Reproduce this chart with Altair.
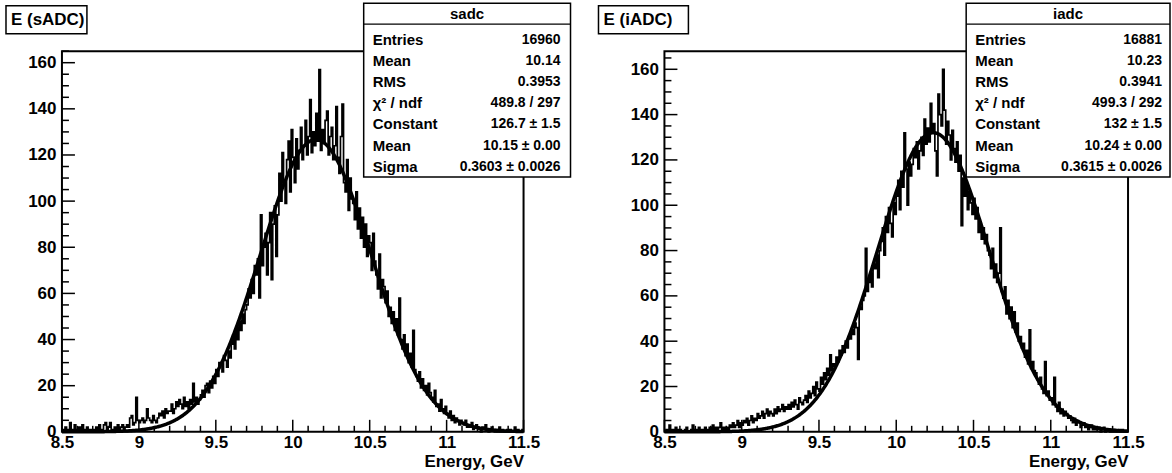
import altair as alt
import numpy as np
import pandas as pd

FONT = "Liberation Sans"

# ---------------- data ----------------
bin_low = 8.5
bin_width = 0.01
n_bins = 300

sadc_counts = [
    1, 0, 2, 1, 0, 4, 1, 0, 3, 1,
    0, 2, 1, 3, 0, 1, 2, 0, 1, 0,
    1, 0, 2, 1, 3, 0, 1, 3, 4, 1,
    2, 4, 1, 0, 2, 1, 3, 1, 2, 3,
    1, 2, 3, 2, 6, 7, 3, 4, 15, 5,
    4, 5, 6, 4, 5, 10, 6, 5, 4, 7,
    5, 4, 6, 8, 7, 9, 6, 10, 8, 9,
    9, 12, 8, 10, 13, 11, 14, 12, 10, 15,
    11, 13, 10, 14, 12, 21, 13, 15, 12, 14,
    16, 18, 15, 20, 21, 17, 22, 19, 24, 21,
    27, 24, 30, 29, 26, 33, 31, 28, 35, 32,
    38, 42, 36, 45, 40, 48, 44, 51, 47, 53,
    55, 62, 58, 66, 60, 72, 68, 75, 58, 94,
    72, 80, 86, 68, 82, 95, 66, 90, 98, 76,
    94, 112, 100, 121, 108, 99, 118, 126, 104, 131,
    119, 108, 127, 114, 122, 132, 118, 124, 135, 120,
    128, 144, 121, 130, 124, 138, 126, 157, 122, 131,
    125, 135, 139, 120, 128, 132, 118, 124, 141, 119,
    112, 128, 142, 108, 104, 118, 96, 110, 101, 99,
    92, 104, 88, 97, 84, 93, 80, 90, 76, 85,
    82, 70, 86, 74, 68, 62, 77, 58, 66, 63,
    56, 61, 50, 54, 47, 52, 44, 49, 42, 58,
    40, 36, 42, 33, 38, 30, 34, 28, 44, 27,
    24, 22, 26, 19, 23, 18, 20, 16, 21, 17,
    15, 13, 18, 11, 12, 9, 14, 10, 8, 11,
    8, 6, 9, 5, 7, 4, 6, 5, 3, 5,
    4, 3, 5, 2, 3, 2, 4, 1, 2, 3,
    2, 1, 0, 2, 1, 3, 1, 0, 1, 2,
    1, 0, 1, 0, 2, 0, 1, 0, 0, 1,
    0, 1, 0, 0, 2, 0, 1, 0, 0, 1,
]

iadc_counts = [
    0, 1, 0, 3, 1, 0, 1, 2, 0, 1,
    1, 0, 0, 1, 2, 0, 0, 1, 3, 0,
    1, 0, 2, 1, 0, 1, 2, 0, 1, 2,
    1, 3, 0, 2, 1, 2, 4, 1, 2, 1,
    2, 1, 3, 2, 4, 2, 3, 5, 2, 4,
    3, 5, 4, 6, 3, 5, 7, 4, 6, 5,
    8, 6, 7, 9, 6, 8, 10, 7, 9, 8,
    7, 10, 8, 11, 9, 10, 12, 9, 11, 10,
    12, 10, 13, 11, 14, 12, 10, 15, 13, 12,
    14, 16, 13, 18, 15, 17, 20, 16, 22, 19,
    18, 24, 21, 26, 23, 28, 25, 34, 27, 30,
    29, 33, 31, 36, 34, 38, 35, 40, 37, 42,
    41, 45, 43, 48, 46, 32, 55, 54, 58, 60,
    81, 62, 66, 70, 64, 74, 72, 78, 68, 80,
    84, 90, 78, 95, 88, 99, 92, 86, 101, 96,
    104, 111, 98, 115, 108, 132, 116, 100, 119, 113,
    118, 125, 121, 128, 116, 124, 130, 122, 138, 127,
    134, 128, 145, 132, 136, 124, 113, 149, 140, 135,
    160, 142, 127, 137, 131, 120, 133, 125, 119, 128,
    115, 122, 91, 112, 104, 110, 98, 106, 101, 96,
    103, 94, 99, 88, 92, 85, 90, 83, 87, 80,
    78, 72, 81, 68, 74, 66, 70, 90, 62, 59,
    64, 52, 58, 50, 55, 46, 53, 44, 48, 40,
    42, 37, 39, 33, 36, 30, 45, 28, 31, 27,
    26, 23, 21, 24, 19, 17, 31, 16, 18, 14,
    15, 12, 24, 11, 9, 13, 8, 10, 7, 9,
    8, 6, 7, 5, 4, 6, 3, 5, 4, 2,
    3, 4, 2, 3, 1, 2, 3, 1, 2, 1,
    1, 2, 0, 1, 2, 0, 1, 1, 0, 1,
    0, 1, 0, 0, 1, 0, 1, 0, 0, 0,
]

panel_titles = ["E (sADC)", "E (iADC)"]
hist_names = ["sadc", "iadc"]
stats_labels = ["Entries", "Mean", "RMS", "\u03c7\u00b2 / ndf", "Constant", "Mean", "Sigma"]
sadc_stats = ["16960", "10.14", "0.3953", "489.8 / 297", "126.7 \u00b1 1.5", "10.15 \u00b1 0.00", "0.3603 \u00b1 0.0026"]
iadc_stats = ["16881", "10.23", "0.3941", "499.3 / 292", "132 \u00b1 1.5", "10.24 \u00b1 0.00", "0.3615 \u00b1 0.0026"]

# gaussian fit parameters (from the stats boxes)
fit_const = [126.7, 132.0]
fit_mean = [10.15, 10.24]
fit_sigma = [0.3603, 0.3615]

x_domain = [8.5, 11.5]
y_max = [165, 168]
x_major = [8.5, 9, 9.5, 10, 10.5, 11, 11.5]
y_major = [0, 20, 40, 60, 80, 100, 120, 140, 160]

assert len(sadc_counts) == n_bins and len(iadc_counts) == n_bins

PLOT_H = 381
widths = [462, 464]

# layout (pixels relative to each plot area)
title_boxes = [(-56, 25), (-66, 24)]
stats_box = [(302, 509), (302, 506)]
stats_text_x = [(311, 499), (311, 498)]
BOX_TOP, BOX_BOTTOM, BOX_SEP = -48, 126, -27


def panel(idx, counts, stats_vals):
    W = widths[idx]
    xs = [round(bin_low + bin_width * i, 2) for i in range(n_bins)] + [x_domain[1]]
    ys = list(counts) + [counts[-1]]
    hist_df = pd.DataFrame({"E": xs, "N": ys})

    xe = np.linspace(x_domain[0], x_domain[1], 601)
    fe = fit_const[idx] * np.exp(-0.5 * ((xe - fit_mean[idx]) / fit_sigma[idx]) ** 2)
    fit_df = pd.DataFrame({"E": xe, "N": fe})

    xs_scale = alt.Scale(domain=x_domain, nice=False, zero=False)
    ys_scale = alt.Scale(domain=[0, y_max[idx]], nice=False, zero=True)

    x_axis = alt.Axis(
        values=x_major, format="~g", ticks=False, tickSize=0, domain=False, grid=False,
        labelFont=FONT, labelFontWeight="bold", labelFontSize=17, labelColor="black",
        labelPadding=3, labelFlush=False, labelOverlap=False,
        title="Energy, GeV", titleFont=FONT, titleFontWeight="bold", titleFontSize=17,
        titleColor="black", titleAnchor="end", titleAlign="right", titlePadding=3,
    )
    y_axis = alt.Axis(
        values=y_major, ticks=False, tickSize=0, domain=False, grid=False,
        labelFont=FONT, labelFontWeight="bold", labelFontSize=17, labelColor="black",
        labelPadding=6, labelFlush=False, labelOverlap=False, title="",
    )

    def X(field):
        return alt.X(field, scale=xs_scale, axis=x_axis, title="Energy, GeV")

    def Y(field):
        return alt.Y(field, scale=ys_scale, axis=y_axis, title="")

    hist = alt.Chart(hist_df).mark_line(
        interpolate="step-after", color="black", strokeWidth=1.7
    ).encode(x=X("E:Q"), y=Y("N:Q"))
    fit = alt.Chart(fit_df).mark_line(color="black", strokeWidth=3.5).encode(
        x=X("E:Q"), y=Y("N:Q"))

    # inward ticks (ROOT style)
    y_minor = [v for v in range(0, y_max[idx] + 1, 5) if v % 20 != 0]
    x_minor = [round(8.5 + 0.1 * i, 1) for i in range(31)]
    x_minor = [v for v in x_minor if round(v * 2) != v * 2]
    yt_major = alt.Chart(pd.DataFrame({"N": y_major})).mark_rule(color="black", strokeWidth=1.5).encode(
        y=Y("N:Q"), x=alt.value(0), x2=alt.value(13))
    yt_minor = alt.Chart(pd.DataFrame({"N": y_minor})).mark_rule(color="black", strokeWidth=1.5).encode(
        y=Y("N:Q"), x=alt.value(0), x2=alt.value(7))
    xt_major = alt.Chart(pd.DataFrame({"E": x_major})).mark_rule(color="black", strokeWidth=1.5).encode(
        x=X("E:Q"), y=alt.value(PLOT_H), y2=alt.value(PLOT_H - 12))
    xt_minor = alt.Chart(pd.DataFrame({"E": x_minor})).mark_rule(color="black", strokeWidth=1.5).encode(
        x=X("E:Q"), y=alt.value(PLOT_H), y2=alt.value(PLOT_H - 6))

    one = pd.DataFrame({"k": [0]})
    bx0, bx1 = stats_box[idx]
    tx0, tx1 = stats_text_x[idx]
    layers = [hist, fit, yt_major, yt_minor, xt_major, xt_minor]
    layers.append(alt.Chart(one).mark_rect(fill="white", stroke="black", strokeWidth=1.5).encode(
        x=alt.value(bx0), x2=alt.value(bx1), y=alt.value(BOX_TOP), y2=alt.value(BOX_BOTTOM)))
    layers.append(alt.Chart(one).mark_rule(color="black", strokeWidth=1.2).encode(
        x=alt.value(bx0), x2=alt.value(bx1), y=alt.value(BOX_SEP)))
    layers.append(alt.Chart(one).mark_text(
        text=hist_names[idx], font=FONT, fontWeight="bold", fontSize=15, align="center",
        baseline="middle", color="black").encode(
        x=alt.value((bx0 + bx1) / 2), y=alt.value((BOX_TOP + BOX_SEP) / 2)))
    for i, (lab, val) in enumerate(zip(stats_labels, stats_vals)):
        ry = -11.5 + 21.2 * i
        layers.append(alt.Chart(one).mark_text(
            text=lab, font=FONT, fontWeight="bold", fontSize=15, align="left",
            baseline="middle", color="black").encode(x=alt.value(tx0), y=alt.value(ry)))
        layers.append(alt.Chart(one).mark_text(
            text=val, font=FONT, fontWeight="bold", fontSize=14, align="right",
            baseline="middle", color="black").encode(x=alt.value(tx1), y=alt.value(ry)))

    tb0, tb1 = title_boxes[idx]
    layers.append(alt.Chart(one).mark_rect(fill="white", stroke="black", strokeWidth=1.5).encode(
        x=alt.value(tb0), x2=alt.value(tb1), y=alt.value(-45.5), y2=alt.value(-17.5)))
    layers.append(alt.Chart(one).mark_text(
        text=panel_titles[idx], font=FONT, fontWeight="bold", fontSize=17, align="left",
        baseline="middle", color="black").encode(x=alt.value(tb0 + 5), y=alt.value(-31.5)))

    return alt.layer(*layers).properties(width=W, height=PLOT_H)


left = panel(0, sadc_counts, sadc_stats)
right = panel(1, iadc_counts, iadc_stats)

chart = alt.hconcat(left, right, spacing=141, bounds="flush").properties(
    padding={"left": 4, "top": 1, "right": 0, "bottom": 0},
    background="white",
).configure_view(stroke="black", strokeWidth=2)

chart.save("out.html", embed_options={"renderer": "svg", "actions": False})
